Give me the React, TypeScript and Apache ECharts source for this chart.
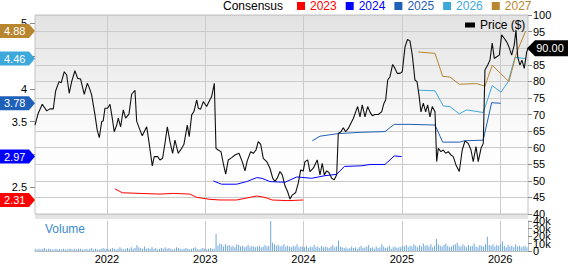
import React, { useEffect, useRef } from "react";
import * as echarts from "echarts";

// ---------- data ----------
const yearTicks = [2022, 2023, 2024, 2025, 2026];
const epsTicks = [2.5, 3, 3.5, 4, 4.5, 5];
const epsLabels = [2.5, 3.5, 4, 5]; // 3 and 4.5 sit behind the tags in the reference
const priceLabels = [40, 45, 50, 55, 60, 65, 70, 75, 80, 85, 95, 100]; // 90 sits behind the price tag
const volumeTicks = [0, 10, 20, 30, 40];
const X_MIN = 2021.268;
const X_MAX = 2026.283;
const EPS_MIN = 2.097;
const EPS_MAX = 5.123;

const consensusYears = ["2023", "2024", "2025", "2026", "2027"];
const consensusColors = ["#ff0000", "#0000ff", "#1f60b8", "#3ea8da", "#b8862e"];

const priceSeries: [number, number][] = [
  [2021.268, 66.8], [2021.301, 70.4], [2021.342, 73.1], [2021.387, 71.1], [2021.42, 71.7], [2021.454, 71.7],
  [2021.478, 77.1], [2021.512, 79.9], [2021.535, 79.6], [2021.566, 82.9], [2021.59, 81.9], [2021.616, 76.4],
  [2021.641, 79.9], [2021.674, 83.2], [2021.702, 80.9], [2021.732, 80.7], [2021.769, 76.1], [2021.8, 79.4],
  [2021.82, 78.1], [2021.844, 75.9], [2021.878, 69.9], [2021.901, 65.3], [2021.922, 63.0], [2021.946, 67.8],
  [2021.962, 68.1], [2021.98, 71.9], [2022.007, 71.9], [2022.031, 73.1], [2022.054, 68.9], [2022.074, 64.8],
  [2022.099, 66.8], [2022.115, 68.9], [2022.139, 66.3], [2022.166, 71.4], [2022.19, 68.9], [2022.224, 70.1],
  [2022.251, 76.1], [2022.285, 77.3], [2022.302, 68.0], [2022.336, 65.3], [2022.359, 63.6], [2022.404, 66.3],
  [2022.427, 61.8], [2022.461, 54.5], [2022.481, 57.3], [2022.516, 57.3], [2022.539, 56.3], [2022.566, 56.8],
  [2022.59, 61.3], [2022.614, 66.3], [2022.641, 61.8], [2022.668, 58.3], [2022.692, 62.3], [2022.725, 58.3],
  [2022.76, 59.8], [2022.783, 61.0], [2022.817, 66.8], [2022.837, 63.3], [2022.862, 69.9], [2022.885, 70.9],
  [2022.913, 74.4], [2022.929, 71.9], [2022.953, 71.6], [2022.98, 73.9], [2023.014, 72.4], [2023.041, 74.1],
  [2023.065, 75.4], [2023.092, 79.4], [2023.109, 59.8], [2023.132, 59.3], [2023.16, 58.8], [2023.183, 55.3],
  [2023.208, 52.0], [2023.234, 56.3], [2023.269, 57.0], [2023.302, 57.8], [2023.343, 58.3], [2023.376, 55.8],
  [2023.404, 53.0], [2023.427, 56.0], [2023.462, 58.8], [2023.488, 58.3], [2023.516, 59.3], [2023.539, 61.8],
  [2023.564, 61.0], [2023.59, 56.8], [2023.625, 55.8], [2023.658, 53.8], [2023.686, 50.8], [2023.709, 49.8],
  [2023.732, 50.8], [2023.76, 52.8], [2023.783, 51.8], [2023.811, 48.5], [2023.838, 46.7], [2023.862, 44.5],
  [2023.885, 45.7], [2023.92, 46.5], [2023.946, 49.3], [2023.971, 53.3], [2023.997, 53.0], [2024.014, 55.8],
  [2024.042, 56.3], [2024.065, 52.8], [2024.099, 53.8], [2024.139, 56.3], [2024.167, 51.8], [2024.19, 55.3],
  [2024.211, 51.8], [2024.235, 53.0], [2024.258, 52.5], [2024.286, 50.8], [2024.312, 50.3], [2024.337, 51.8],
  [2024.353, 64.3], [2024.38, 64.8], [2024.404, 66.0], [2024.428, 64.8], [2024.455, 65.8], [2024.489, 67.8],
  [2024.506, 68.8], [2024.53, 70.8], [2024.55, 72.4], [2024.574, 69.3], [2024.597, 72.9], [2024.625, 69.3],
  [2024.652, 72.4], [2024.675, 70.8], [2024.699, 69.6], [2024.726, 70.0], [2024.76, 70.0], [2024.794, 70.8],
  [2024.818, 73.4], [2024.835, 74.4], [2024.856, 80.4], [2024.879, 81.4], [2024.906, 85.1], [2024.93, 83.9],
  [2024.953, 82.4], [2024.981, 82.4], [2025.004, 82.9], [2025.032, 90.4], [2025.057, 92.6], [2025.082, 92.2],
  [2025.106, 87.9], [2025.133, 80.4], [2025.154, 79.9], [2025.174, 75.9], [2025.194, 70.8], [2025.218, 73.4],
  [2025.242, 70.8], [2025.262, 72.9], [2025.286, 69.3], [2025.309, 72.4], [2025.337, 70.8], [2025.354, 55.8],
  [2025.37, 59.8], [2025.397, 58.8], [2025.421, 59.3], [2025.445, 58.3], [2025.472, 58.8], [2025.499, 57.8],
  [2025.523, 57.3], [2025.55, 54.8], [2025.584, 52.8], [2025.614, 59.3], [2025.642, 62.0], [2025.675, 61.3],
  [2025.703, 59.3], [2025.726, 55.8], [2025.754, 60.3], [2025.777, 55.8], [2025.805, 59.8], [2025.828, 61.3],
  [2025.845, 83.4], [2025.873, 84.9], [2025.896, 86.4], [2025.919, 91.5], [2025.94, 86.9], [2025.964, 87.4],
  [2025.991, 87.9], [2026.015, 94.0], [2026.041, 93.0], [2026.066, 91.9], [2026.089, 90.4], [2026.117, 87.9],
  [2026.143, 91.0], [2026.161, 95.5], [2026.178, 87.4], [2026.201, 84.9], [2026.221, 86.4], [2026.245, 83.9],
  [2026.27, 88.9], [2026.283, 90.0],
];

const eps2023: [number, number][] = [
  [2022.081, 2.48], [2022.156, 2.42], [2022.336, 2.41], [2022.539, 2.4], [2022.674, 2.41], [2022.844, 2.4],
  [2022.913, 2.35], [2023.048, 2.32], [2023.15, 2.31], [2023.319, 2.31], [2023.455, 2.35], [2023.523, 2.37],
  [2023.607, 2.35], [2023.679, 2.31], [2023.841, 2.3], [2023.997, 2.31],
];
const eps2024: [number, number][] = [
  [2023.081, 2.6], [2023.166, 2.55], [2023.319, 2.55], [2023.421, 2.59], [2023.523, 2.65], [2023.576, 2.64],
  [2023.658, 2.59], [2023.811, 2.58], [2023.93, 2.66], [2024.083, 2.64], [2024.218, 2.68], [2024.337, 2.7],
  [2024.415, 2.82], [2024.592, 2.83], [2024.676, 2.85], [2024.828, 2.85], [2024.922, 2.98], [2024.998, 2.97],
];
const eps2025: [number, number][] = [
  [2024.089, 3.21], [2024.167, 3.28], [2024.353, 3.32], [2024.592, 3.34], [2024.828, 3.35], [2024.922, 3.46],
  [2025.082, 3.46], [2025.337, 3.45], [2025.415, 3.19], [2025.59, 3.19], [2025.634, 3.21], [2025.827, 3.22],
  [2025.913, 3.79], [2026.005, 3.78],
];
const eps2026: [number, number][] = [
  [2025.167, 3.98], [2025.337, 3.97], [2025.421, 3.74], [2025.489, 3.73], [2025.584, 3.62], [2025.659, 3.68],
  [2025.828, 3.64], [2025.919, 4.05], [2026.008, 3.95], [2026.082, 4.11], [2026.15, 4.48], [2026.259, 4.46],
];
const eps2027: [number, number][] = [
  [2025.167, 4.56], [2025.337, 4.54], [2025.415, 4.19], [2025.489, 4.18], [2025.584, 4.07], [2025.761, 4.08],
  [2025.845, 4.04], [2025.919, 4.36], [2026.089, 4.11], [2026.167, 4.55], [2026.259, 4.88],
];
const consensusSeries = [eps2023, eps2024, eps2025, eps2026, eps2027];

// weekly volume (thousands of shares), first week starting at volumeStart
const volumeStart = 2021.27;
const volumeStep = 1 / 52.18;
const volumeValues = [
  3, 2, 3, 2, 3, 4, 2, 3, 3, 2, 2, 3, 2, 3, 2, 3, 2, 2, 3, 3, 2, 3, 2, 3, 3, 2, 2, 3, 2, 3, 4, 2, 3, 2, 2, 3, 4, 3,
  3, 2, 3, 4, 3, 2, 3, 5, 3, 2, 3, 4, 3, 5, 3, 4, 8, 5, 4, 3, 6, 3, 4, 3, 5, 3, 4, 2, 3, 4, 3, 5, 3, 4, 3, 2, 3, 5,
  4, 3, 2, 3, 4, 3, 2, 3, 4, 5, 3, 2, 3, 4,
  3, 2, 3, 4, 3, 3, 23, 7, 10, 9, 6, 9, 7, 8, 6, 7, 5, 9, 8, 6, 7, 5, 6, 8, 5, 7, 6, 5, 6, 7, 5, 6, 8, 6, 7, 40, 11,
  9, 7, 8, 6, 7, 9, 6, 7, 6, 5, 7, 6, 9, 5, 6,
  6, 5, 7, 4, 6, 5, 8, 5, 6, 4, 7, 5, 6, 5, 4, 6, 8, 5, 6, 14, 6, 5, 4, 5, 3, 4, 6, 4, 5, 3, 5, 7, 4, 5, 6, 8, 4, 5,
  3, 6, 4, 5, 9, 6, 4, 5, 7, 3, 5, 6, 4, 5,
  5, 7, 6, 8, 5, 7, 6, 9, 7, 5, 8, 6, 10, 7, 8, 6, 9, 5, 7, 16, 9, 7, 6, 8, 10, 7, 5, 6, 8, 9, 11, 7, 6, 9, 7, 5, 8,
  6, 7, 10, 6, 5, 8, 7, 6, 9, 19, 8, 7, 9, 6, 8,
  7, 9, 13, 7, 5, 8, 6, 7, 5, 9, 6, 7, 5, 6, 7, 5,
];
const lastPrice = 90.0;

// ---------- component ----------
export default function App() {
  const ref = useRef<HTMLDivElement>(null);

  useEffect(() => {
    const el = ref.current;
    if (!el) return;
    const chart = echarts.init(el, null, { renderer: "svg" });
    const font = "'Liberation Sans', Arial, Helvetica, sans-serif";
    const gridColor = "#cbcbcb";
    const GL = 35, GW = 493, MT = 15, MH = 199, VT = 221, VH = 33;

    const bg = new echarts.graphic.LinearGradient(0, 0, 0, 1, [
      { offset: 0, color: "#e2e2e2" },
      { offset: 0.6, color: "#fcfcfc" },
      { offset: 1, color: "#ffffff" },
    ]);

    const option: any = {
      animation: false,
      textStyle: { fontFamily: font },
      grid: [
        { left: GL, top: MT, width: GW, height: MH, show: true, backgroundColor: bg, borderColor: "#c2c2c2", borderWidth: 1 },
        { left: GL, top: VT, width: GW, height: VH, show: false },
      ],
      legend: [
        {
          data: consensusYears.map((y, i) => ({
            name: y,
            itemStyle: { color: consensusColors[i] },
            textStyle: { color: consensusColors[i] },
          })),
          left: 297,
          top: 0,
          padding: 0,
          itemWidth: 8,
          itemHeight: 8,
          itemGap: 9,
          icon: "rect",
          selectedMode: false,
          textStyle: { fontSize: 12, fontFamily: font },
        },
        {
          data: [{ name: "Price ($)", itemStyle: { color: "#000" } }],
          left: 465,
          top: 19,
          padding: 0,
          itemWidth: 10,
          itemHeight: 5,
          icon: "rect",
          selectedMode: false,
          textStyle: { fontSize: 12, color: "#000", fontFamily: font },
        },
      ],
      xAxis: [
        {
          type: "value", gridIndex: 0, min: X_MIN, max: X_MAX,
          axisLine: { show: false },
          axisTick: { show: false, customValues: yearTicks },
          axisLabel: { show: false, customValues: yearTicks },
          splitLine: { show: true, lineStyle: { color: gridColor } },
        },
        {
          type: "value", gridIndex: 1, min: X_MIN, max: X_MAX,
          axisLine: { show: true, lineStyle: { color: "#bdbdbd" } },
          axisTick: { show: false, customValues: yearTicks },
          axisLabel: { customValues: yearTicks, formatter: (v: number) => String(v), margin: 2, fontSize: 11, color: "#000" },
          splitLine: { show: true, lineStyle: { color: gridColor } },
        },
      ],
      yAxis: [
        {
          type: "value", gridIndex: 0, position: "right", min: 40, max: 100, interval: 5,
          axisLine: { show: false },
          axisTick: { show: true, length: 4, lineStyle: { color: "#8a8a8a" } },
          axisLabel: { customValues: priceLabels, fontSize: 11, color: "#000", margin: 5, showMinLabel: true, showMaxLabel: true },
          splitLine: { show: true, lineStyle: { color: gridColor } },
        },
        {
          type: "value", gridIndex: 0, position: "left", min: EPS_MIN, max: EPS_MAX,
          axisLine: { show: false },
          axisTick: { show: true, length: 5, customValues: epsTicks, lineStyle: { color: "#8a8a8a" } },
          axisLabel: { customValues: epsLabels, formatter: (v: number) => String(v), fontSize: 11, color: "#000", margin: 8 },
          splitLine: { show: false },
        },
        {
          type: "value", gridIndex: 1, position: "right", min: 0, max: 40, interval: 10,
          axisLine: { show: true, lineStyle: { color: "#bdbdbd" } },
          axisTick: { show: true, length: 4, customValues: volumeTicks, lineStyle: { color: "#8a8a8a" } },
          // labels are tightly packed in the reference; they are drawn below as texts placed via this axis
          axisLabel: { show: false },
          splitLine: { show: false },
        },
      ],
      series: [
        ...consensusYears.map((y, i) => ({
          name: y,
          type: "line",
          xAxisIndex: 0,
          yAxisIndex: 1,
          data: consensusSeries[i],
          symbol: "none",
          lineStyle: { color: consensusColors[i], width: 1 },
          itemStyle: { color: consensusColors[i] },
          z: 3,
        })),
        {
          name: "Price ($)",
          type: "line",
          xAxisIndex: 0,
          yAxisIndex: 0,
          data: priceSeries,
          symbol: "none",
          lineStyle: { color: "#111", width: 1.1 },
          itemStyle: { color: "#000" },
          z: 4,
        },
        {
          name: "Volume",
          type: "bar",
          xAxisIndex: 1,
          yAxisIndex: 2,
          data: volumeValues.map((v, i) => [volumeStart + i * volumeStep, v]),
          barWidth: 1,
          itemStyle: { color: "#6fa8dc" },
        },
      ],
    };

    chart.setOption(option);

    // annotation tags and volume labels, placed through the axes
    const graphics: any[] = [
      { type: "rect", shape: { x: GL, y: MT + MH + 1, width: GW, height: 4 }, style: { fill: "#e4e4e4" }, silent: true },
      { type: "text", x: 223, y: 6, style: { text: "Consensus", fontSize: 12, fontFamily: font, fill: "#000", verticalAlign: "middle" } },
      { type: "text", x: 45, y: 229, style: { text: "Volume", fontSize: 12, fontFamily: font, fill: "#3b8bd0", verticalAlign: "middle" } },
    ];
    volumeTicks.forEach((v) => {
      const y = chart.convertToPixel({ yAxisIndex: 2 } as any, v) as number;
      graphics.push({
        type: "text", x: GL + GW + 5, y,
        style: { text: v === 0 ? "0" : v + "k", fontSize: 11, fontFamily: font, fill: "#000", verticalAlign: "middle" },
      });
    });
    consensusSeries.forEach((s, i) => {
      const v = s[s.length - 1][1];
      const y = chart.convertToPixel({ yAxisIndex: 1 } as any, v) as number;
      graphics.push({
        type: "polygon",
        shape: { points: [[0, y - 7], [29, y - 7], [35, y], [29, y + 7], [0, y + 7]] },
        style: { fill: consensusColors[i] },
        z: 10,
      });
      graphics.push({
        type: "text", x: 4, y,
        style: { text: v.toFixed(2), fontSize: 11, fontFamily: font, fill: "#fff", verticalAlign: "middle" },
        z: 11,
      });
    });
    const py = chart.convertToPixel({ yAxisIndex: 0 } as any, lastPrice) as number;
    graphics.push({
      type: "polygon",
      shape: { points: [[527, py], [535, py - 8], [568, py - 8], [568, py + 8], [535, py + 8]] },
      style: { fill: "#000" },
      z: 10,
    });
    graphics.push({
      type: "text", x: 550, y: py,
      style: { text: lastPrice.toFixed(2), fontSize: 11, fontFamily: font, fill: "#fff", verticalAlign: "middle", align: "center" },
      z: 11,
    });
    chart.setOption({ graphic: graphics });

    return () => chart.dispose();
  }, []);

  return <div ref={ref} style={{ position: "absolute", left: 0, top: 0, width: 568, height: 264 }} />;
}
